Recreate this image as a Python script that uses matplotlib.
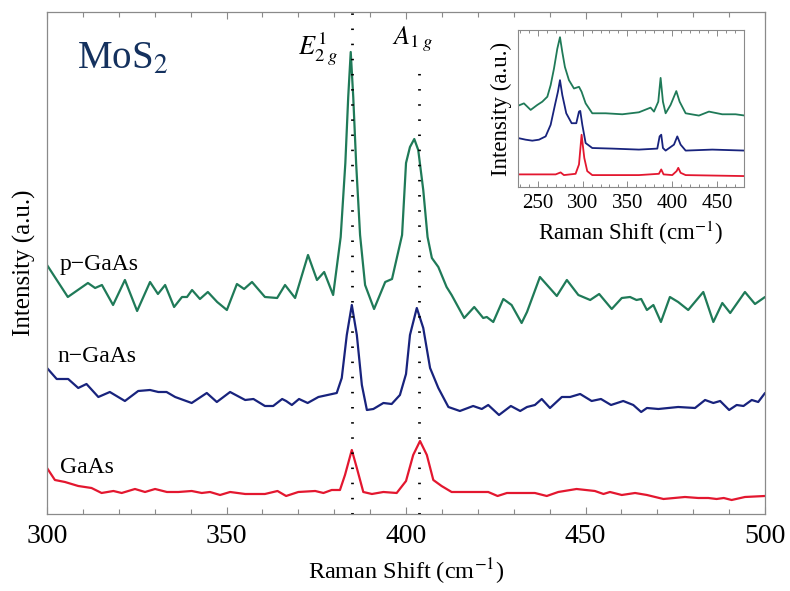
import matplotlib
matplotlib.use('Agg')
import matplotlib.pyplot as plt
from matplotlib.ticker import MultipleLocator

plt.rcParams['font.family'] = ['Liberation Serif', 'DejaVu Serif']
plt.rcParams['mathtext.fontset'] = 'stix'
plt.rcParams['lines.solid_joinstyle'] = 'round'
plt.rcParams['lines.solid_capstyle'] = 'round'

# ---------------- main spectra (Raman shift in cm^-1, intensity in a.u.) ----------------
p_x = [300.0, 305.8, 311.4, 313.4, 315.3, 318.4, 321.7, 325.1, 328.7, 330.9, 332.9, 335.4,
       337.6, 339.0, 340.4, 342.6, 344.8, 347.4, 350.1, 352.9, 354.9, 357.1, 360.7, 364.1,
       366.3, 369.1, 372.7, 375.2, 377.2, 379.7, 381.8, 383.1, 383.9, 384.6, 385.3, 386.1,
       387.2, 388.6, 391.1, 394.2, 396.1, 398.9, 400.0, 401.1, 402.3, 403.4, 404.8, 406.0,
       407.2, 409.0, 411.3, 412.7, 416.2, 419.0, 421.5, 422.5, 424.3, 427.1, 429.4, 432.2,
       433.7, 437.3, 442.0, 444.8, 448.0, 451.3, 453.8, 457.3, 460.1, 462.4, 464.2, 465.5,
       467.1, 468.9, 471.0, 473.5, 475.8, 478.6, 482.8, 485.6, 488.1, 490.3, 494.4, 497.2,
       500.0]
p_y = [249, 217, 231, 226, 229, 209, 234, 203, 232, 220, 229, 207,
       217, 217, 224, 215, 222, 212, 204, 230, 225, 232, 217, 216,
       229, 216, 259, 234, 242, 219, 277, 351, 417, 462, 417, 351,
       279, 229, 205, 232, 235, 279, 351, 367, 375, 364, 324, 277,
       256, 247, 227, 219, 196, 207, 196, 197, 192, 215, 209, 191,
       202, 237, 218, 234, 219, 214, 220, 205, 216, 217, 214, 215,
       204, 209, 192, 217, 212, 204, 222, 192, 211, 201, 222, 210,
       217]

n_x = [300.0, 302.7, 305.9, 308.7, 311.0, 314.3, 317.5, 321.7, 325.4, 328.7, 331.0, 333.3,
       335.7, 340.3, 344.5, 347.3, 351.0, 355.2, 357.5, 360.7, 363.0, 365.5, 366.6, 368.2,
       370.2, 372.6, 375.6, 380.7, 382.1, 383.5, 384.9, 386.3, 387.7, 389.1, 390.9, 393.7,
       396.0, 398.3, 400.0, 401.1, 403.0, 404.8, 406.7, 409.0, 411.8, 415.0, 418.7, 421.1,
       422.9, 425.9, 429.2, 431.8, 433.7, 435.9, 437.8, 440.1, 443.4, 445.7, 448.5, 451.7,
       454.3, 457.1, 460.5, 463.3, 465.5, 467.1, 470.3, 475.8, 480.5, 483.3, 485.6, 487.5,
       490.0, 492.1, 494.0, 496.3, 498.1, 500.0]
n_y = [146, 135, 135, 126, 130, 117, 122, 113, 123, 124, 122, 122,
       117, 111, 121, 112, 122, 114, 115, 108, 108, 115, 113, 109,
       115, 111, 117, 121, 136, 179, 209, 179, 129, 104, 105, 111,
       110, 119, 140, 179, 206, 186, 146, 126, 107, 103, 108, 105,
       109, 99, 108, 103, 107, 109, 115, 106, 117, 117, 120, 113,
       115, 109, 113, 109, 102, 106, 105, 107, 106, 114, 111, 113,
       104, 109, 108, 114, 112, 121]

g_x = [300.0, 302.2, 305.0, 308.7, 312.4, 315.2, 318.5, 320.8, 324.5, 327.3, 330.1, 333.4,
       336.6, 340.3, 343.1, 345.4, 348.2, 351.0, 355.2, 360.7, 364.2, 366.6, 370.0, 374.7,
       377.0, 379.3, 381.6, 383.0, 384.9, 386.3, 388.1, 390.5, 393.7, 397.4, 400.0, 402.0,
       403.9, 405.8, 407.6, 409.9, 412.7, 418.3, 422.9, 425.5, 428.1, 433.7, 435.9, 439.2,
       442.4, 447.5, 452.6, 455.0, 456.8, 460.1, 463.8, 467.1, 471.7, 477.7, 481.4, 484.2,
       486.5, 488.5, 490.7, 494.4, 500.0]
g_y = [46, 34, 32, 28, 26, 21, 23, 21, 25, 22, 25, 22,
       22, 23, 21, 22, 19, 22, 20, 20, 23, 18, 22, 23,
       21, 24, 24, 39, 64, 46, 22, 20, 22, 21, 33, 59,
       73, 59, 34, 28, 22, 22, 22, 18, 21, 21, 21, 18,
       22, 25, 23, 20, 22, 19, 21, 19, 15, 17, 16, 16,
       15, 16, 14, 17, 18]

# ---------------- inset spectra (wider range) ----------------
ip_x = [228.3, 234.6, 242.1, 249.5, 255.1, 260.7, 264.4, 268.1, 271.8, 274.8, 277.4, 280.3,
        284.8, 290.4, 296.0, 298.9, 303.4, 310.8, 325.7, 344.3, 362.8, 375.8, 379.6, 384.4,
        387.0, 389.6, 392.6, 398.1, 404.5, 408.2, 414.9, 429.7, 440.9, 455.7, 470.6, 481.0]
ip_y = [82.0, 84.3, 77.7, 82.7, 86.0, 91.0, 102.7, 119.3, 139.3, 151.0, 136.0, 121.0,
        107.7, 99.3, 101.0, 96.0, 84.3, 74.3, 74.3, 73.3, 75.3, 80.0, 76.0, 86.0,
        110.0, 86.0, 74.3, 82.7, 96.7, 86.0, 74.3, 72.0, 76.0, 73.3, 73.3, 72.0]

in_x = [228.3, 236.5, 243.9, 251.4, 258.8, 264.4, 269.2, 272.5, 274.8, 277.4, 281.8, 287.8,
        293.0, 296.0, 297.4, 299.7, 303.4, 310.8, 333.1, 362.8, 383.3, 385.9, 387.7, 389.6,
        392.6, 401.9, 405.6, 409.3, 414.9, 444.6, 481.0]
in_y = [49.3, 47.7, 46.7, 47.7, 51.0, 62.7, 82.7, 96.0, 107.7, 92.7, 74.3, 64.3,
        64.3, 76.0, 76.7, 62.7, 44.3, 39.3, 38.7, 37.7, 38.7, 51.0, 52.7, 39.3,
        36.7, 42.7, 51.0, 42.7, 36.7, 37.7, 36.7]

ig_x = [228.3, 270.0, 275.5, 279.2, 292.2, 296.0, 298.9, 301.9, 305.2, 310.8, 362.8, 385.1,
        387.7, 390.3, 400.0, 404.8, 406.7, 409.3, 414.9, 481.0]
ig_y = [12.7, 12.7, 14.7, 12.0, 13.3, 22.7, 52.7, 29.3, 16.0, 12.0, 12.0, 13.3,
        17.7, 12.7, 12.0, 16.0, 19.3, 14.3, 12.0, 11.0]

mode_pos = [385.0, 403.6]
mode_labels = [r'$E^{1}_{2\;g}$', r'$A_{1\;g}$']
sample_labels = ['p\u2212GaAs', 'n\u2212GaAs', 'GaAs']

c_green = '#1f7a58'
c_blue = '#18237d'
c_red = '#e3172f'
frame = '#8a8a8a'

fig = plt.figure(figsize=(7.9, 5.91), dpi=100)
ax = fig.add_axes([0.0595, 0.1303, 0.9089, 0.8494])

ax.plot(p_x, p_y, color=c_green, lw=1.6)
ax.plot(n_x, n_y, color=c_blue, lw=1.6)
ax.plot(g_x, g_y, color=c_red, lw=1.6)

# dotted guide lines at the two MoS2 modes (A1g line stops under its label)
ax.axvline(mode_pos[0], ymin=0, ymax=1, color='black', lw=2.0, ls=(0, (0.55, 4.9)))
ax.axvline(mode_pos[1], ymin=0, ymax=0.905, color='black', lw=2.0, ls=(0, (0.55, 4.9)))

ax.set_xlim(300, 500)
ax.set_ylim(0, 502)
ax.xaxis.set_major_locator(MultipleLocator(50))
ax.xaxis.set_minor_locator(MultipleLocator(10))
ax.set_yticks([])
ax.tick_params(axis='x', which='both', direction='in', top=True, bottom=True,
               color=frame, labelsize=20, pad=7)
ax.tick_params(axis='x', which='major', length=5, width=0.8)
ax.tick_params(axis='x', which='minor', length=3.5, width=0.8)
for s in ax.spines.values():
    s.set_color(frame)
    s.set_linewidth(0.9)

ax.set_xlabel('Raman Shift (cm$^{-1}$)', fontsize=17.5, labelpad=6)
ax.set_ylabel('Intensity (a.u.)', fontsize=18, labelpad=8)

ax.text(0.042, 0.905, 'MoS$_2$', transform=ax.transAxes, fontsize=28,
        color='#14315e', ha='left', va='center')
ax.text(0.018, 0.497, sample_labels[0], transform=ax.transAxes, fontsize=17, va='center')
ax.text(0.014, 0.313, sample_labels[1], transform=ax.transAxes, fontsize=17, va='center')
ax.text(0.018, 0.093, sample_labels[2], transform=ax.transAxes, fontsize=17, va='center')

ax.text(0.350, 0.925, mode_labels[0], transform=ax.transAxes, fontsize=19, ha='left', va='center')
ax.text(0.480, 0.945, mode_labels[1], transform=ax.transAxes, fontsize=19, ha='left', va='center')

# ---------------- inset ----------------
ins = fig.add_axes([0.6557, 0.6836, 0.2861, 0.2657])
ins.plot(ip_x, ip_y, color=c_green, lw=1.3)
ins.plot(in_x, in_y, color=c_blue, lw=1.3)
ins.plot(ig_x, ig_y, color=c_red, lw=1.3)
ins.set_xlim(228, 480)
ins.set_ylim(0, 158.3)
ins.xaxis.set_major_locator(MultipleLocator(50))
ins.xaxis.set_minor_locator(MultipleLocator(10))
ins.set_yticks([])
ins.tick_params(axis='x', which='both', direction='in', top=True, bottom=True,
                color=frame, labelsize=15, pad=5)
ins.tick_params(axis='x', which='major', length=4, width=0.7)
ins.tick_params(axis='x', which='minor', length=2.5, width=0.7)
for s in ins.spines.values():
    s.set_color(frame)
    s.set_linewidth(0.8)
ins.set_xlabel('Raman Shift (cm$^{-1}$)', fontsize=16.5, labelpad=4)
ins.set_ylabel('Intensity (a.u.)', fontsize=16.5, labelpad=4)

fig.savefig('out.png', dpi=100, facecolor='white')
